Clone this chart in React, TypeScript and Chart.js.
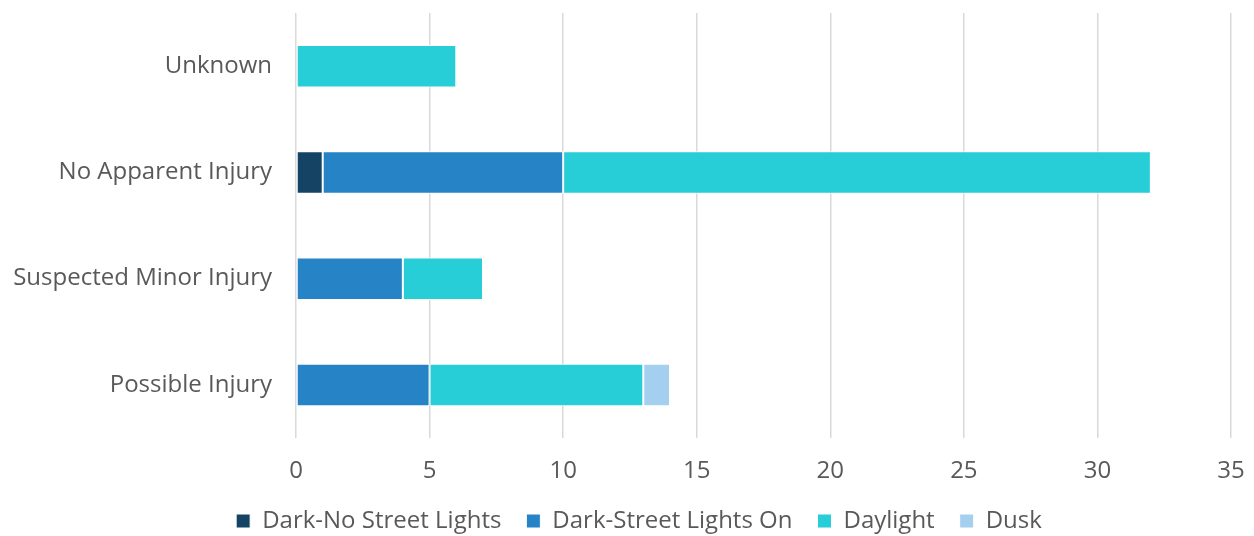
import React, { useEffect, useRef } from "react";
import { Chart, registerables } from "chart.js";

Chart.register(...registerables);

const categories = ["Unknown", "No Apparent Injury", "Suspected Minor Injury", "Possible Injury"];
const darkNoLights = [0, 1, 0, 0];
const darkLightsOn = [0, 9, 4, 5];
const daylight = [6, 22, 3, 8];
const dusk = [0, 0, 0, 1];
const xTicks = [0, 5, 10, 15, 20, 25, 30, 35];

const FONT = "'Open Sans', 'Noto Sans', sans-serif";
const TEXT = "#595959";

const zeroPad = (s: any) => {
  s.paddingTop = 0;
  s.paddingBottom = 0;
  s.paddingLeft = 0;
  s.paddingRight = 0;
};

const legendShift = {
  id: "legendShift",
  afterLayout(chart: any) {
    const lg = chart.legend;
    if (!lg) return;
    lg.left = 47;
    lg.right = 1231;
    lg.width = lg.right - lg.left;
  },
};

export default function App() {
  const ref = useRef<HTMLCanvasElement | null>(null);
  useEffect(() => {
    if (!ref.current) return;
    const mk = (label: string, data: number[], color: string) => ({
      label,
      data,
      backgroundColor: color,
      borderColor: "#ffffff",
      borderWidth: 1,
      borderSkipped: false,
      categoryPercentage: 1,
      barPercentage: 0.4,
    });
    const chart = new Chart(ref.current, {
      type: "bar",
      data: {
        labels: categories,
        datasets: [
          mk("Dark-No Street Lights", darkNoLights, "#154363"),
          mk("Dark-Street Lights On", darkLightsOn, "#2683C6"),
          mk("Daylight", daylight, "#27CED7"),
          mk("Dusk", dusk, "#A4CFEE"),
        ],
      },
      plugins: [legendShift],
      options: {
        indexAxis: "y",
        responsive: false,
        maintainAspectRatio: false,
        animation: false,
        layout: { padding: { top: 13, right: 23, left: 0, bottom: 0 } },
        plugins: {
          tooltip: { enabled: false },
          legend: {
            position: "bottom",
            maxHeight: 52,
            labels: {
              boxWidth: 14,
              boxHeight: 14,
              padding: 25,
              color: TEXT,
              font: { family: FONT, size: 24 },
            },
          },
        },
        scales: {
          x: {
            stacked: true,
            min: 0,
            max: 35,
            afterBuildTicks: (s: any) => {
              s.ticks = xTicks.map((v) => ({ value: v }));
            },
            grid: { color: "#d9d9d9", lineWidth: 1.5, drawTicks: false },
            border: { display: false },
            ticks: { color: TEXT, font: { family: FONT, size: 24 }, padding: 19 },
            afterFit: (s: any) => {
              s.height = 46;
              zeroPad(s);
            },
          },
          y: {
            stacked: true,
            grid: { display: false, drawTicks: false },
            border: { display: false },
            ticks: { color: TEXT, font: { family: FONT, size: 24 }, padding: 24 },
            afterFit: (s: any) => {
              s.width = 296;
              zeroPad(s);
            },
          },
        },
      },
    } as any);
    return () => chart.destroy();
  }, []);
  return (
    <div style={{ position: "fixed", left: 0, top: 0, width: 1254, height: 536, background: "#fff" }}>
      <canvas ref={ref} width={1254} height={536} style={{ width: 1254, height: 536 }} />
    </div>
  );
}
